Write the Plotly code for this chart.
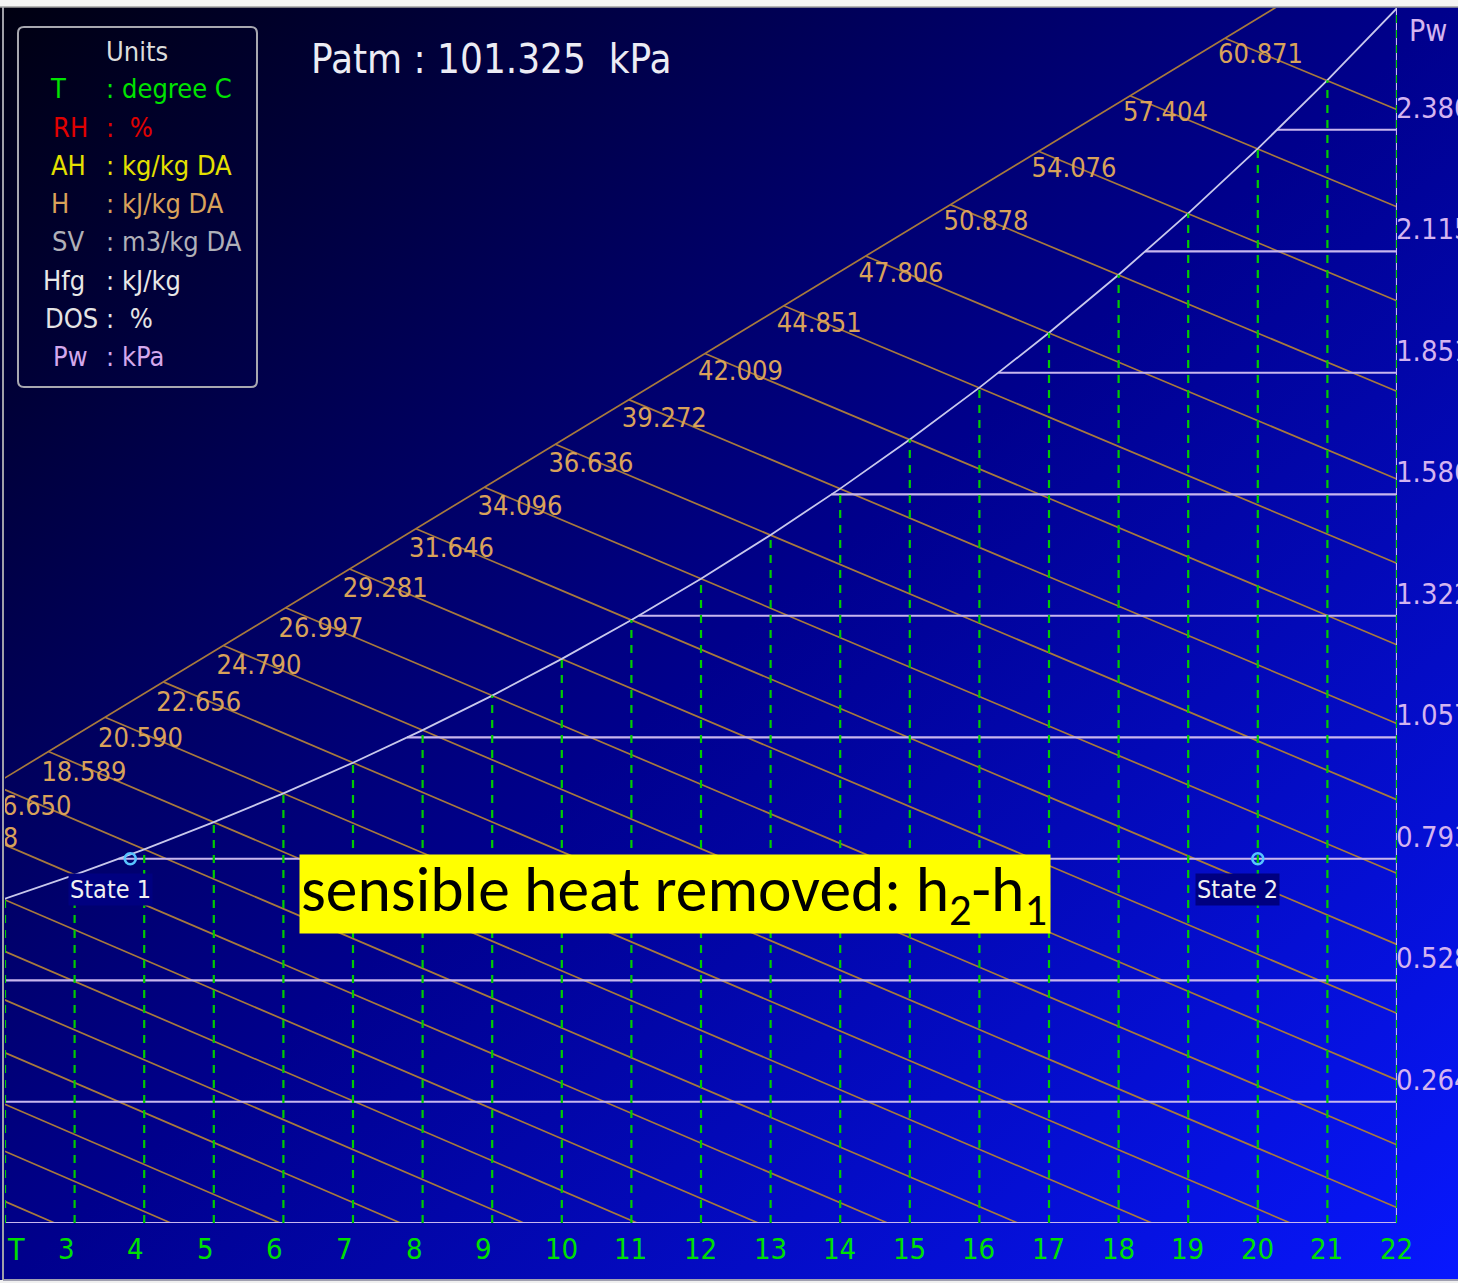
import base64
import numpy as np
import plotly.graph_objects as go

# ---------------- data ----------------
P_ATM = 101.325  # kPa

# saturation curve (dry bulb T in degC, saturation vapour pressure in kPa)
T_SAT = [2, 3, 4, 5, 6, 7, 8, 9, 10, 11, 12, 13, 14, 15, 16, 17, 18, 19, 20, 21, 22]
PW_SAT = [0.706, 0.758, 0.8135, 0.8725, 0.9353, 1.002, 1.0729, 1.1481, 1.228, 1.3128,
          1.4026, 1.4979, 1.5987, 1.7055, 1.8185, 1.938, 2.0643, 2.1979, 2.3389, 2.4878, 2.6448]

# axis ticks
T_TICKS = [3, 4, 5, 6, 7, 8, 9, 10, 11, 12, 13, 14, 15, 16, 17, 18, 19, 20, 21, 22]
PW_TICKS = [0.264, 0.528, 0.793, 1.057, 1.322, 1.586, 1.851, 2.115, 2.380]
PW_TICK_TEXT = ["0.264", "0.528", "0.793", "1.057", "1.322", "1.586", "1.851", "2.115", "2.380"]

# constant-enthalpy lines (kJ/kg DA); the lowest ones carry no visible label
H_VALUES = [2.73, 4.41, 5.99, 7.73, 9.51, 11.15, 12.90,
            14.768, 16.650, 18.589, 20.590, 22.656, 24.790, 26.997, 29.281, 31.646,
            34.096, 36.636, 39.272, 42.009, 44.851, 47.806, 50.878, 54.076, 57.404, 60.871]
H_LABELS = ["", "", "", "", "", "", "",
            "14.768", "16.650", "18.589", "20.590", "22.656", "24.790", "26.997", "29.281",
            "31.646", "34.096", "36.636", "39.272", "42.009", "44.851", "47.806", "50.878",
            "54.076", "57.404", "60.871"]

# straight boundary on which the enthalpy lines end (two points, T / Pw)
BOUND_T = [2.0, 20.2]
BOUND_PW = [0.969, 2.641]

# process states
STATE_T = [3.8, 20.0]
STATE_PW = [0.793, 0.793]
STATE_NAMES = ["State 1", "State 2"]

UNIT_ROWS = [("T", ":", "degree C", "#00e400"),
             ("RH", ":", " %", "#e00000"),
             ("AH", ":", "kg/kg DA", "#e4e000"),
             ("H", ":", "kJ/kg DA", "#d9a25a"),
             ("SV", ":", "m3/kg DA", "#b0b0b8"),
             ("Hfg", ":", "kJ/kg", "#e8e8e8"),
             ("DOS", ":", " %", "#e4e4e4"),
             ("Pw", ":", "kPa", "#d4a8ec")]

# ---------------- layout geometry ----------------
W, H = 1458, 1283
ML, MR, MT, MB = 5, 61, 8, 60
PLW, PLH = W - ML - MR, H - MT - MB
X_RANGE = [2, 22]
Y_RANGE = [0, 2.645]
PX_PER_T = PLW / (X_RANGE[1] - X_RANGE[0])
PX_PER_KPA = PLH / (Y_RANGE[1] - Y_RANGE[0])

def px(x):
    return (x - ML) / PLW

def py(y):
    return 1 - (y - MT) / PLH

FONT = "DejaVu Sans Condensed, DejaVu Sans, sans-serif"
GREEN = "#00e000"
LAV = "#c8b6ee"
BROWN = "#a87a3c"
HLAB = "#d9a25a"

# ---------------- psychrometrics ----------------
def pw_of_h(h, t):
    w = (h - 1.006 * t) / (2501.0 + 1.86 * t)
    return P_ATM * w / (0.622 + w)

b_slope = (BOUND_PW[1] - BOUND_PW[0]) / (BOUND_T[1] - BOUND_T[0])

def bound(t):
    return BOUND_PW[0] + b_slope * (np.asarray(t) - BOUND_T[0])

def start_t(h):
    lo, hi = -30.0, h / 1.006
    for _ in range(60):
        mid = 0.5 * (lo + hi)
        if pw_of_h(h, mid) - bound(mid) > 0:
            lo = mid
        else:
            hi = mid
    return 0.5 * (lo + hi)

fig = go.Figure()

# enthalpy lines
hx, hy, lx, ly, lt = [], [], [], [], []
for h, lab in zip(H_VALUES, H_LABELS):
    t0 = start_t(h)
    t1 = h / 1.006
    ts = np.linspace(t0, t1, 60)
    hx += list(ts) + [None]
    hy += [pw_of_h(h, t) for t in ts] + [None]
    if lab:
        p0 = float(pw_of_h(h, t0))
        # small pixel nudge of the label relative to the line end
        dy_px = 4 + 6 * (1 - p0 / Y_RANGE[1]) / (1 - 0.9 / Y_RANGE[1])
        lx.append(t0 - 7 / PX_PER_T)
        ly.append(p0 - min(dy_px, 10) / PX_PER_KPA)
        lt.append(lab)
fig.add_trace(go.Scatter(x=hx, y=hy, mode="lines", line=dict(color=BROWN, width=1.7),
                         hoverinfo="skip", showlegend=False))

# boundary line
bx = [0.0, 23.0]
fig.add_trace(go.Scatter(x=bx, y=list(bound(bx)), mode="lines",
                         line=dict(color=BROWN, width=1.7), hoverinfo="skip", showlegend=False))

# constant Pw lines (from saturation curve to right edge) + base line
gx, gy = [], []
for p in PW_TICKS:
    t0 = float(np.interp(p, PW_SAT, T_SAT))
    gx += [t0, 22, None]
    gy += [p, p, None]
gx += [2, 22, None, 22, 22]
gy += [0, 0, None, 0, PW_SAT[-1]]
fig.add_trace(go.Scatter(x=gx, y=gy, mode="lines", line=dict(color=LAV, width=2.2),
                         hoverinfo="skip", showlegend=False))

# saturation curve
fig.add_trace(go.Scatter(x=T_SAT, y=PW_SAT, mode="lines", line=dict(color="#c8c8ec", width=1.8),
                         hoverinfo="skip", showlegend=False))

# dry-bulb verticals (dashed green)
vx, vy = [], []
for t, ps in zip(T_SAT, PW_SAT):
    vx += [t, t, None]
    vy += [0, ps, None]
fig.add_trace(go.Scatter(x=vx, y=vy, mode="lines",
                         line=dict(color="#00cc00", width=2.2, dash="8px,7px"),
                         hoverinfo="skip", showlegend=False))

# enthalpy labels
fig.add_trace(go.Scatter(x=lx, y=ly, mode="text", text=lt, textposition="bottom right",
                         textfont=dict(family=FONT, size=27, color=HLAB),
                         hoverinfo="skip", showlegend=False, cliponaxis=True))

# states
fig.add_trace(go.Scatter(x=STATE_T, y=STATE_PW, mode="markers",
                         marker=dict(symbol="circle-open", size=11, color="#58c4ff",
                                     line=dict(width=2.6, color="#58c4ff")),
                         hoverinfo="skip", showlegend=False))

ann = []
for t, p, name in zip(STATE_T, STATE_PW, STATE_NAMES):
    ann.append(dict(x=t, y=p, xref="x", yref="y", text=name, showarrow=False,
                    xanchor="center", yanchor="middle", xshift=-20, yshift=-31,
                    bgcolor="#000080", borderpad=1,
                    font=dict(family=FONT, size=25, color="#f0f0f0")))

# axis labels
for t in T_TICKS:
    ann.append(dict(x=t, y=py(1249), xref="x", yref="paper", text=str(t), showarrow=False,
                    xanchor="left", yanchor="middle", xshift=-19,
                    font=dict(family=FONT, size=29, color=GREEN)))
ann.append(dict(x=px(5), y=py(1249), xref="paper", yref="paper", text="T", showarrow=False,
                xanchor="left", yanchor="middle", font=dict(family=FONT, size=30, color=GREEN)))
for p, s in zip(PW_TICKS, PW_TICK_TEXT):
    ann.append(dict(x=22, y=p, xref="x", yref="y", text=s, showarrow=False,
                    xanchor="left", yanchor="middle", xshift=-3, yshift=22,
                    font=dict(family=FONT, size=29, color="#d4b4f0")))
ann.append(dict(x=px(1428), y=py(30), xref="paper", yref="paper", text="Pw", showarrow=False,
                xanchor="center", yanchor="middle", font=dict(family=FONT, size=30, color="#d4b4f0")))

# Patm
ann.append(dict(x=px(309), y=py(59), xref="paper", yref="paper", text="Patm : 101.325  kPa",
                showarrow=False, xanchor="left", yanchor="middle",
                font=dict(family=FONT, size=40, color="#ececf4")))

# units box
ann.append(dict(x=px(137), y=py(51), xref="paper", yref="paper", text="Units", showarrow=False,
                xanchor="center", yanchor="middle", font=dict(family=FONT, size=27, color="#dcdcdc")))
lab_cx = [58, 70, 68, 60, 68, 64, 71, 70]
for i, (a, c, v, col) in enumerate(UNIT_ROWS):
    yy = py(89 + 38.2 * i)
    ann.append(dict(x=px(lab_cx[i]), y=yy, xref="paper", yref="paper", text=a, showarrow=False,
                    xanchor="center", yanchor="middle", font=dict(family=FONT, size=27, color=col)))
    ann.append(dict(x=px(110), y=yy, xref="paper", yref="paper", text=c, showarrow=False,
                    xanchor="center", yanchor="middle", font=dict(family=FONT, size=27, color=col)))
    ann.append(dict(x=px(120), y=yy, xref="paper", yref="paper", text=v, showarrow=False,
                    xanchor="left", yanchor="middle", font=dict(family=FONT, size=27, color=col)))

# yellow note
ann.append(dict(x=px(675), y=py(894), xref="paper", yref="paper",
                text="sensible heat removed: h<sub>2</sub>-h<sub>1</sub>", showarrow=False,
                xanchor="center", yanchor="middle", width=748, height=76, align="left",
                bgcolor="#ffff00", borderpad=1,
                font=dict(family="Carlito, Calibri, Lato, Open Sans, sans-serif", size=63.5,
                          color="#000000")))

# rounded units box path
x0, x1, y0, y1, r = 18, 257, 27, 387, 6
def P(x, y):
    return f"{px(x):.6f},{py(y):.6f}"
path = (f"M {P(x0 + r, y0)} L {P(x1 - r, y0)} Q {P(x1, y0)} {P(x1, y0 + r)} "
        f"L {P(x1, y1 - r)} Q {P(x1, y1)} {P(x1 - r, y1)} L {P(x0 + r, y1)} "
        f"Q {P(x0, y1)} {P(x0, y1 - r)} L {P(x0, y0 + r)} Q {P(x0, y0)} {P(x0 + r, y0)} Z")
shapes = [
    dict(type="path", path=path, xref="paper", yref="paper", line=dict(color="#a8a8b0", width=2)),
    dict(type="rect", xref="paper", yref="paper", x0=px(0), x1=px(W), y0=py(0), y1=py(7),
         fillcolor="#f4f4f4", line=dict(width=0), layer="above"),
    dict(type="line", xref="paper", yref="paper", x0=px(0), x1=px(W), y0=py(7), y1=py(7),
         line=dict(color="#a0a0a0", width=1.5)),
    dict(type="line", xref="paper", yref="paper", x0=px(3), x1=px(3), y0=py(7), y1=py(1280),
         line=dict(color="#a0a0a8", width=2)),
    dict(type="rect", xref="paper", yref="paper", x0=px(0), x1=px(W), y0=py(1280), y1=py(H),
         fillcolor="#f0f0f0", line=dict(width=0)),
    dict(type="line", xref="paper", yref="paper", x0=px(3), x1=px(W), y0=py(1280), y1=py(1280),
         line=dict(color="#a0a0b0", width=2)),
]

# gradient background
svg = (f'<svg xmlns="http://www.w3.org/2000/svg" width="{W}" height="{H}">'
       '<defs><linearGradient id="g" x1="0" y1="0" x2="1" y2="1">'
       '<stop offset="0" stop-color="#000010"/>'
       '<stop offset="0.5" stop-color="#00008c"/>'
       '<stop offset="1" stop-color="#0818ff"/>'
       '</linearGradient></defs>'
       f'<rect width="{W}" height="{H}" fill="url(#g)"/></svg>')
src = "data:image/svg+xml;base64," + base64.b64encode(svg.encode()).decode()

fig.update_layout(
    width=W, height=H,
    margin=dict(l=ML, r=MR, t=MT, b=MB, pad=0),
    paper_bgcolor="#00006a", plot_bgcolor="rgba(0,0,0,0)",
    xaxis=dict(range=X_RANGE, showgrid=False, zeroline=False, showticklabels=False,
               ticks="", showline=False, fixedrange=True),
    yaxis=dict(range=Y_RANGE, showgrid=False, zeroline=False, showticklabels=False,
               ticks="", showline=False, fixedrange=True),
    images=[dict(source=src, xref="paper", yref="paper", x=px(0), y=py(0),
                 sizex=W / PLW, sizey=H / PLH, xanchor="left", yanchor="top",
                 sizing="stretch", layer="below")],
    annotations=ann,
    shapes=shapes,
    showlegend=False,
)

fig.write_html("out.html")
